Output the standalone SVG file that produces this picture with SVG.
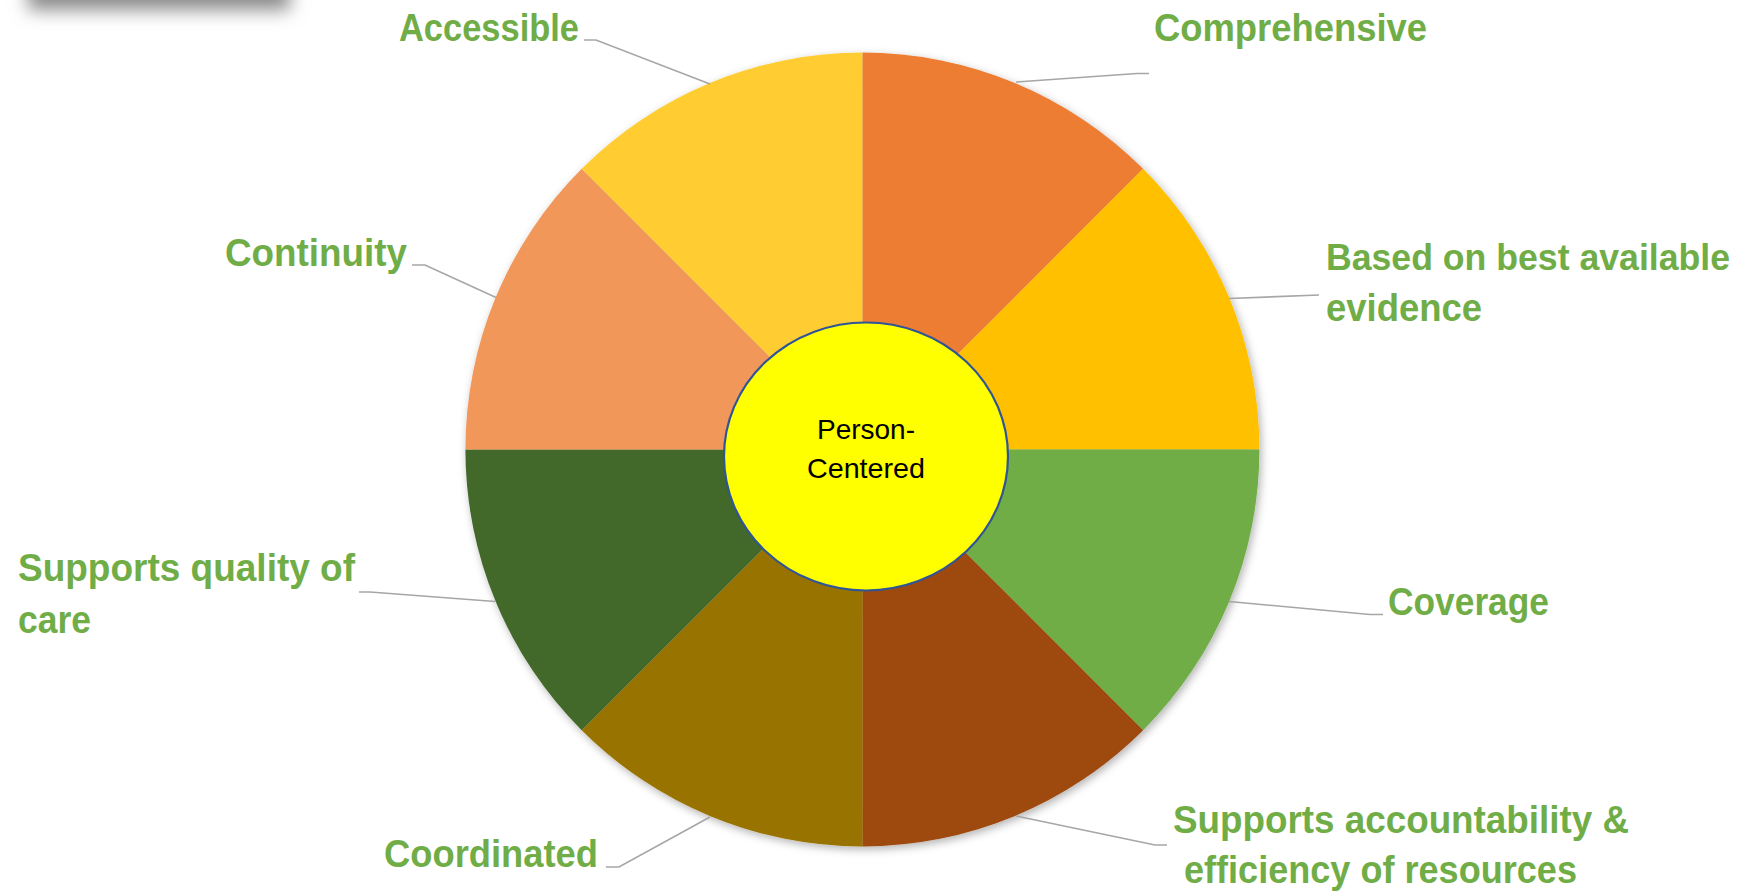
<svg xmlns="http://www.w3.org/2000/svg" width="1747" height="893" viewBox="0 0 1747 893">
<defs>
<style>
.lbl{font-family:"Liberation Sans",Arial,sans-serif;font-weight:bold;font-size:38px;fill:#70AD47}
.ctr{font-family:"Liberation Sans",Arial,sans-serif;font-size:28px;fill:#000}
.ld{fill:none;stroke:#A6A6A6;stroke-width:1.6}
</style>
<filter id="sh" x="-10%" y="-10%" width="120%" height="120%">
<feDropShadow dx="2" dy="3" stdDeviation="4" flood-color="#000" flood-opacity="0.3"/>
</filter>
<filter id="blur" x="-50%" y="-200%" width="200%" height="500%">
<feGaussianBlur stdDeviation="9"/>
</filter>
</defs>
<rect width="1747" height="893" fill="#fff"/>
<rect x="28" y="-40" width="262" height="50" fill="#8a8a8a" filter="url(#blur)"/>
<g id="pie" filter="url(#sh)">
<path id="s-comprehensive" d="M862.4 449.5 L862.4 52.5 A397 397 0 0 1 1143.1 168.8 Z" fill="#ED7D31"/>
<path id="s-evidence" d="M862.4 449.5 L1143.1 168.8 A397 397 0 0 1 1259.4 449.5 Z" fill="#FFC000"/>
<path id="s-coverage" d="M862.4 449.5 L1259.4 449.5 A397 397 0 0 1 1143.1 730.2 Z" fill="#70AD47"/>
<path id="s-accountability" d="M862.4 449.5 L1143.1 730.2 A397 397 0 0 1 862.4 846.5 Z" fill="#9E480E"/>
<path id="s-coordinated" d="M862.4 449.5 L862.4 846.5 A397 397 0 0 1 581.7 730.2 Z" fill="#997300"/>
<path id="s-quality" d="M862.4 449.5 L581.7 730.2 A397 397 0 0 1 465.4 449.5 Z" fill="#43682B"/>
<path id="s-continuity" d="M862.4 449.5 L465.4 449.5 A397 397 0 0 1 581.7 168.8 Z" fill="#F1975A"/>
<path id="s-accessible" d="M862.4 449.5 L581.7 168.8 A397 397 0 0 1 862.4 52.5 Z" fill="#FFCD33"/>
</g>
<g id="center">
<ellipse cx="866" cy="456.5" rx="142" ry="134" fill="#FFFF00" stroke="#2F5597" stroke-width="2.2"/>
<text class="ctr" x="817" y="439" textLength="98" lengthAdjust="spacingAndGlyphs">Person-</text>
<text class="ctr" x="807" y="478" textLength="118" lengthAdjust="spacingAndGlyphs">Centered</text>
</g>
<g id="connectors">
<polyline class="ld" points="584,40 596,40 710,84"/>
<polyline class="ld" points="1016,82 1137,73.5 1149,73.5"/>
<polyline class="ld" points="1229,298.5 1319,295"/>
<polyline class="ld" points="1229,601.5 1370,614.5 1383,614.5"/>
<polyline class="ld" points="1016,816 1155,845 1167,845"/>
<polyline class="ld" points="606,867 619,867 710,817"/>
<polyline class="ld" points="359,592 370,592 495,601.5"/>
<polyline class="ld" points="412,265 425,265 496,297.5"/>
</g>
<g id="label-accessible"><text class="lbl" x="399" y="41" textLength="180" lengthAdjust="spacingAndGlyphs">Accessible</text></g>
<g id="label-comprehensive"><text class="lbl" x="1154" y="41" textLength="273" lengthAdjust="spacingAndGlyphs">Comprehensive</text></g>
<g id="label-evidence">
<text class="lbl" x="1326" y="270" style="font-size:36px" textLength="404" lengthAdjust="spacingAndGlyphs">Based on best available</text>
<text class="lbl" x="1326" y="321" textLength="156" lengthAdjust="spacingAndGlyphs">evidence</text>
</g>
<g id="label-coverage"><text class="lbl" x="1388" y="615" textLength="161" lengthAdjust="spacingAndGlyphs">Coverage</text></g>
<g id="label-accountability">
<text class="lbl" x="1173" y="833" textLength="456" lengthAdjust="spacingAndGlyphs">Supports accountability &amp;</text>
<text class="lbl" x="1184" y="883" textLength="393" lengthAdjust="spacingAndGlyphs">efficiency of resources</text>
</g>
<g id="label-coordinated"><text class="lbl" x="384" y="867" textLength="214" lengthAdjust="spacingAndGlyphs">Coordinated</text></g>
<g id="label-quality">
<text class="lbl" x="18" y="581" textLength="337" lengthAdjust="spacingAndGlyphs">Supports quality of</text>
<text class="lbl" x="18" y="633" textLength="73" lengthAdjust="spacingAndGlyphs">care</text>
</g>
<g id="label-continuity"><text class="lbl" x="225" y="266" textLength="182" lengthAdjust="spacingAndGlyphs">Continuity</text></g>
</svg>
